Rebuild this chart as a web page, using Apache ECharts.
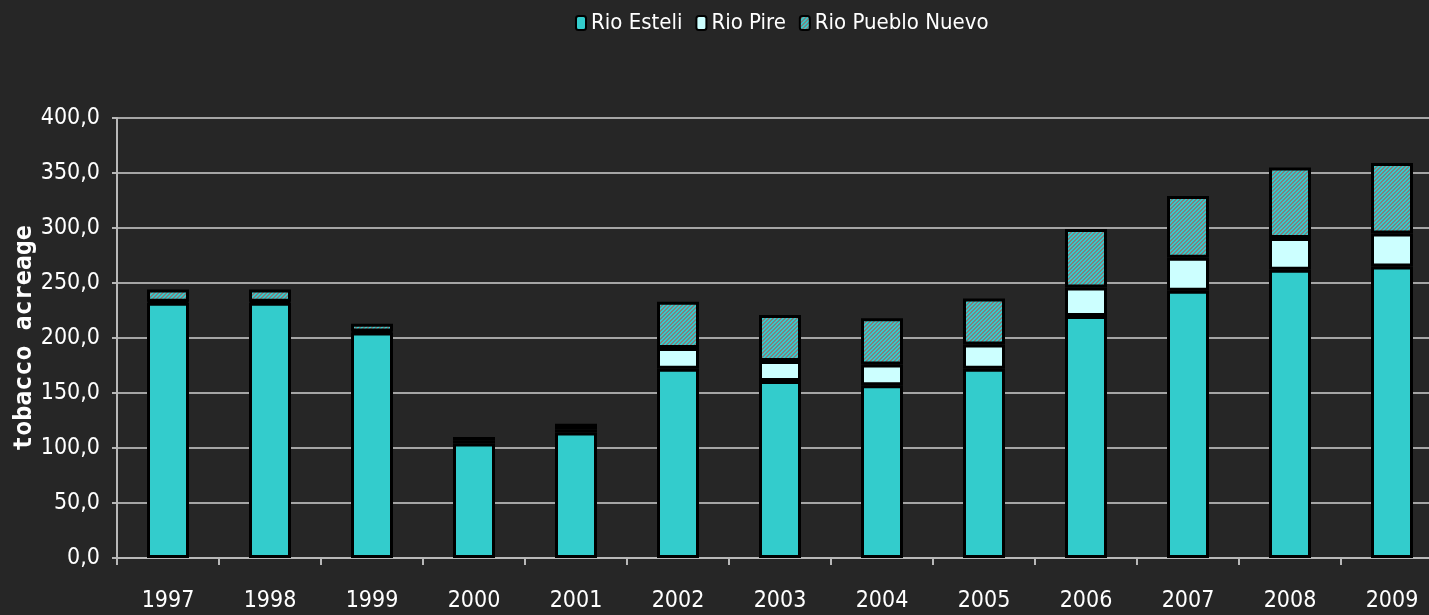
<!DOCTYPE html>
<html>
<head>
	<meta charset="utf-8">
	<title>tobacco acreage</title>
	<script src="https://cdn.jsdelivr.net/npm/echarts@6/dist/echarts.min.js"></script>
	<style>
		html, body { margin: 0; padding: 0; background: #262626; }
	</style>
</head>
<body>
	<div id="main" style="width: 1429px;height: 615px;"></div>
	<script>
		// data
		var years = ['1997', '1998', '1999', '2000', '2001', '2002', '2003', '2004', '2005', '2006', '2007', '2008', '2009'];
		var esteli = [232, 232, 205, 104, 114, 172, 161, 157, 172, 220, 243, 262, 265];
		var pire = [1, 1, 1, 3, 3, 19, 18, 19, 22, 26, 30, 29, 30];
		var pueblo = [11, 11, 7, 3, 5, 42, 42, 42, 42, 53, 56, 64, 64];

		var narrow = "'Liberation Sans Narrow', 'DejaVu Sans Condensed', sans-serif";

		// hatched fill for Rio Pueblo Nuevo
		var hatch = document.createElement('canvas');
		hatch.width = 4;
		hatch.height = 4;
		var hctx = hatch.getContext('2d');
		for (var x = 0; x < 4; x++) {
			for (var y = 0; y < 4; y++) {
				hctx.fillStyle = ((x + y) % 4 < 2) ? '#33cccc' : '#808080';
				hctx.fillRect(x, y, 1, 1);
			}
		}

		var myCharts = echarts.init(document.getElementById('main'));

		function bar(name, data, color) {
			return {
				name: name,
				type: 'bar',
				stack: 'total',
				barWidth: 42,
				data: data,
				itemStyle: {
					color: color,
					borderColor: '#000',
					borderWidth: 3
				}
			};
		}

		var option = {
			backgroundColor: '#262626',
			animation: false,
			legend: {
				top: 7,
				left: 570,
				itemWidth: 10,
				itemHeight: 14,
				itemGap: 13,
				textStyle: { color: '#fff', fontSize: 22, fontFamily: narrow }
			},
			grid: { left: 117, top: 118, width: 1326, height: 440, outerBoundsMode: 'none' },
			xAxis: {
				type: 'category',
				data: years,
				axisLine: { lineStyle: { color: '#b8b8b8', width: 2 } },
				axisTick: { show: true, length: 7, lineStyle: { color: '#b8b8b8', width: 2 } },
				axisLabel: { color: '#fff', fontSize: 23, fontFamily: narrow, margin: 32 }
			},
			yAxis: {
				type: 'value',
				min: 0,
				max: 400,
				interval: 50,
				name: 'tobacco acreage',
				nameLocation: 'middle',
				nameGap: 80,
				nameMoveOverlap: false,
				nameTextStyle: { color: '#fff', fontSize: 25, fontWeight: 'bold', fontFamily: 'DejaVu Sans Mono' },
				axisLine: { show: true, lineStyle: { color: '#b8b8b8', width: 2 } },
				axisTick: { show: true, length: 5, lineStyle: { color: '#b8b8b8', width: 2 } },
				splitLine: { lineStyle: { color: '#d0d0d0', width: 1.5 } },
				axisLabel: {
					color: '#fff',
					fontSize: 23,
					fontFamily: narrow,
					margin: 17,
					formatter: function (v) { return v.toFixed(1).replace('.', ','); }
				}
			},
			series: [
				bar('Rio Esteli', esteli, '#33cccc'),
				bar('Rio Pire', pire, '#ccffff'),
				bar('Rio Pueblo Nuevo', pueblo, { image: hatch, repeat: 'repeat' })
			]
		};

		myCharts.setOption(option);
	</script>
</body>
</html>
